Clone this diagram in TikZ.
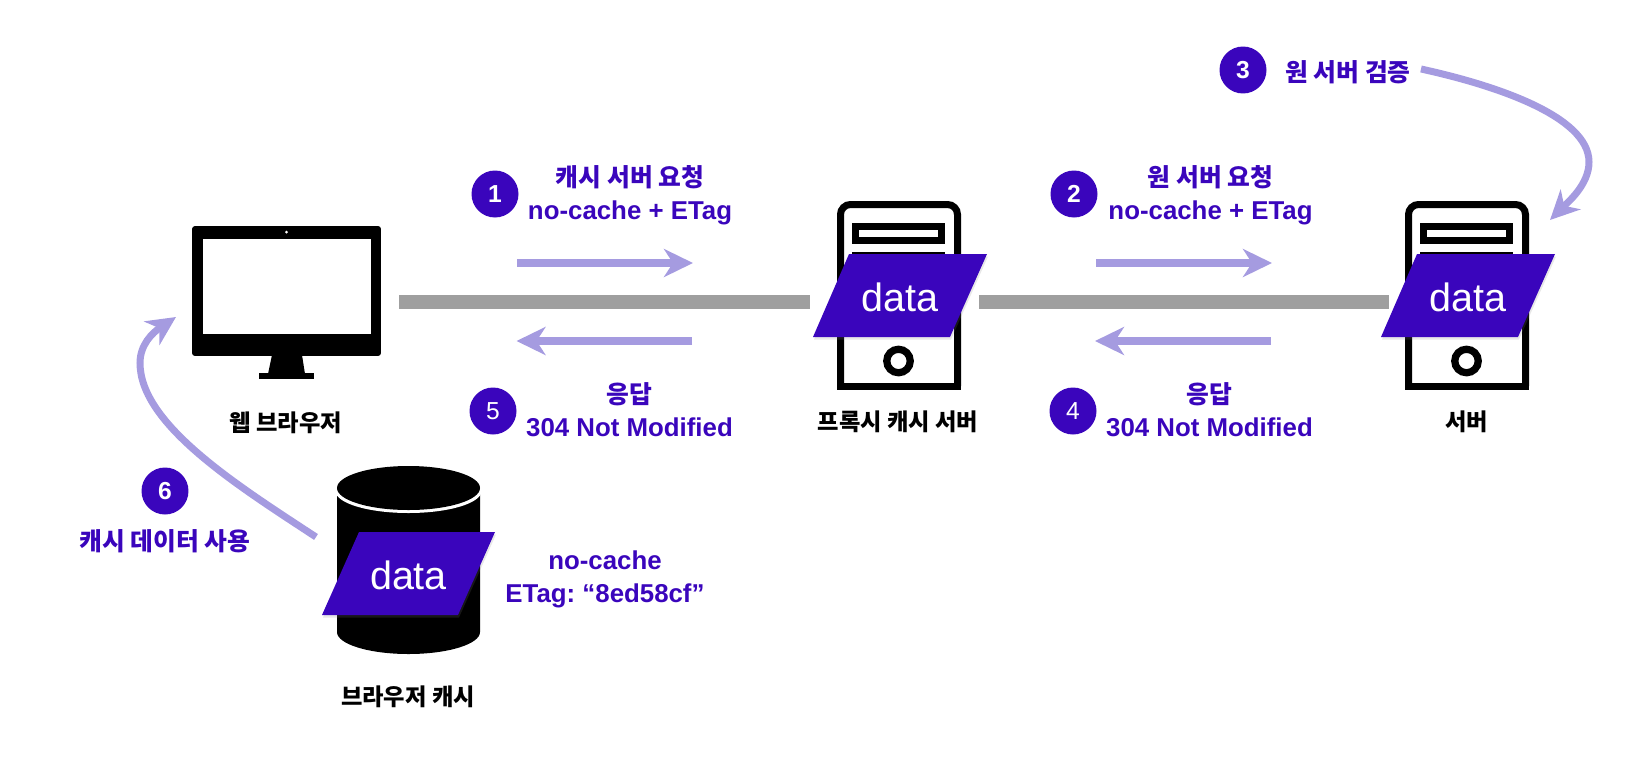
\documentclass[tikz,border=0pt]{standalone}
\usepackage{fontspec}
\setmainfont{Liberation Sans}
\newfontfamily\cjk[Scale=0.96]{Noto Sans CJK KR}
\usetikzlibrary{arrows.meta,shadows}

\definecolor{deeppurple}{HTML}{3A05BC}
\definecolor{softpurple}{HTML}{A59BE0}
\definecolor{linkgray}{HTML}{9F9F9F}

\begin{document}
\frenchspacing
\begin{tikzpicture}[
  % 1 unit = 1 pixel of the reference, y running downwards
  x=0.02cm, y=-0.02cm,
  % Data card styles
  datacard/.style={fill=deeppurple,
    drop shadow={shadow xshift=0.02cm, shadow yshift=-0.05cm, opacity=0.18}},
  datalbl/.style={text=white, inner sep=0pt, font=\fontsize{22.5}{26}\selectfont},
  % Step badge styles
  badge/.style={circle, fill=deeppurple, text=white, minimum size=0.94cm, inner sep=0pt,
    font=\fontsize{14}{16}\selectfont},
  badgebold/.style={badge, font=\fontsize{14}{16}\selectfont\bfseries},
  % Label styles
  steplbl/.style={text=deeppurple, align=center, inner sep=0pt,
    font=\fontsize{14.7}{18.8}\selectfont\bfseries},
  hostlbl/.style={text=black, align=center, inner sep=0pt,
    font=\fontsize{13.8}{16}\selectfont\cjk\bfseries},
  % Arrow styles
  flow/.style={-{Stealth[length=0.58cm, width=0.56cm, inset=0.18cm]}, draw=softpurple,
    line width=0.155cm},
  flowcurve/.style={-{Stealth[length=0.58cm, width=0.56cm, inset=0.18cm]}, draw=softpurple,
    line width=0.14cm},
  link/.style={draw=linkgray, line width=0.28cm},
  % Server styles
  srvcase/.style={draw=black, line width=0.14cm, fill=white},
  srvslot/.style={draw=black, line width=0.14cm, fill=white, rectangle, inner sep=0pt,
    minimum width=1.72cm, minimum height=0.28cm},
  srvled/.style={circle, draw=black, line width=0.145cm, fill=white, minimum size=0.47cm, inner sep=0pt},
]

\useasboundingbox (0,0) rectangle (1650,758);

% --- Web browser ---
\node[fill=black, rounded corners=0.06cm, minimum width=3.78cm, minimum height=2.6cm, inner sep=0pt]
  (monitor) at (286.5,291) {};
\node[fill=white, minimum width=3.36cm, minimum height=1.9cm, inner sep=0pt] (screen) at (287,286.5) {};
\node[circle, fill=white, minimum size=0.06cm, inner sep=0pt] (camera) at (286.5,232) {};
\fill[black] (272,355) -- (302,355) -- (305,374) -- (268,374) -- cycle;
\node[fill=black, minimum width=1.1cm, minimum height=0.12cm, inner sep=0pt] (foot) at (286.5,376) {};
\node[hostlbl] (browserlbl) at (286,423) {웹 브라우저};

% --- Links ---
\coordinate (link1a) at (399,302);
\coordinate (link1b) at (810,302);
\coordinate (link2a) at (979,302);
\coordinate (link2b) at (1389,302);
\draw[link] (link1a) -- (link1b);
\draw[link] (link2a) -- (link2b);

% --- Proxy cache server ---
\draw[srvcase, rounded corners=0.2cm] (840.5,386) -- (840.5,204.5) -- (957.5,204.5) -- (957.5,386);
\draw[srvcase] (837,386) -- (961,386);
\node[srvslot] (slot1a) at (898.5,233.5) {};
\node[srvslot] (slot1b) at (898.5,262) {};
\node[srvled] (led1) at (898.5,361) {};
\fill[datacard] (813,337) -- (950,337) -- (987,254) -- (849,254) -- cycle;
\node[datalbl] (proxydata) at (900,297.5) {data};
\node[hostlbl] (proxylbl) at (898,422) {프록시 캐시 서버};

% --- Origin server ---
\draw[srvcase, rounded corners=0.2cm] (1408.5,386) -- (1408.5,204.5) -- (1525.5,204.5) -- (1525.5,386);
\draw[srvcase] (1405,386) -- (1529,386);
\node[srvslot] (slot2a) at (1466.5,233.5) {};
\node[srvslot] (slot2b) at (1466.5,262) {};
\node[srvled] (led2) at (1466.5,361) {};
\fill[datacard] (1381,337) -- (1518,337) -- (1555,254) -- (1417,254) -- cycle;
\node[datalbl] (origindata) at (1468,297.5) {data};
\node[hostlbl] (originlbl) at (1466.5,422) {서버};

% --- Browser cache ---
\fill[black] (337,488) -- (337,632) arc[start angle=180, end angle=360, x radius=71.5, y radius=-22]
  -- (480,488) -- cycle;
\fill[white] (408.5,491) ellipse[x radius=73, y radius=22];
\fill[black] (408.5,488) ellipse[x radius=71.5, y radius=22];
\fill[datacard] (322,615) -- (458,615) -- (495,532) -- (359,532) -- cycle;
\node[datalbl] (cachedata) at (408.5,575.5) {data};
\node[hostlbl] (cachelbl) at (408,697) {브라우저 캐시};
\node[steplbl] (etaglbl) at (605,579.5) {no-cache\\ETag: “8ed58cf”};

% --- Step 1 / 5 ---
\node[badgebold] (b1) at (495,194) {1};
\node[steplbl] (l1) at (630,195.5) {{\cjk 캐시 서버 요청}\\no-cache + ETag};
\coordinate (a1s) at (517,263);
\coordinate (a1e) at (693,263);
\draw[flow] (a1s) -- (a1e);
\coordinate (a5s) at (692,341);
\coordinate (a5e) at (516.5,341);
\draw[flow] (a5s) -- (a5e);
\node[badge] (b5) at (493,411) {5};
\node[steplbl] (l5) at (629.5,409.5) {{\cjk 응답}\\304 Not Modified};

% --- Step 2 / 4 ---
\node[badgebold] (b2) at (1074,194) {2};
\node[steplbl] (l2) at (1210.5,195.5) {{\cjk 원 서버 요청}\\no-cache + ETag};
\coordinate (a2s) at (1096,263);
\coordinate (a2e) at (1272,263);
\draw[flow] (a2s) -- (a2e);
\coordinate (a4s) at (1271,341);
\coordinate (a4e) at (1095,341);
\draw[flow] (a4s) -- (a4e);
\node[badge] (b4) at (1073,411) {4};
\node[steplbl] (l4) at (1209.5,409.5) {{\cjk 응답}\\304 Not Modified};

% --- Step 3 ---
\node[badgebold] (b3) at (1243,70) {3};
\node[steplbl] (l3) at (1348,72) {\cjk 원 서버 검증};
\coordinate (a3s) at (1421,69);
\coordinate (a3e) at (1550,220);
\draw[flowcurve] (a3s) .. controls (1490,84) and (1589,115) .. (1589,162)
  .. controls (1589,185) and (1567,203) .. (a3e);

% --- Step 6 ---
\node[badgebold] (b6) at (165,491) {6};
\node[steplbl] (l6) at (165,541) {\cjk 캐시 데이터 사용};
\coordinate (a6s) at (316,537);
\coordinate (a6e) at (176,317);
\draw[flowcurve] (a6s) .. controls (240,487) and (140,425) .. (140,363)
  .. controls (140,345) and (152,333) .. (a6e);

\end{tikzpicture}
\end{document}
